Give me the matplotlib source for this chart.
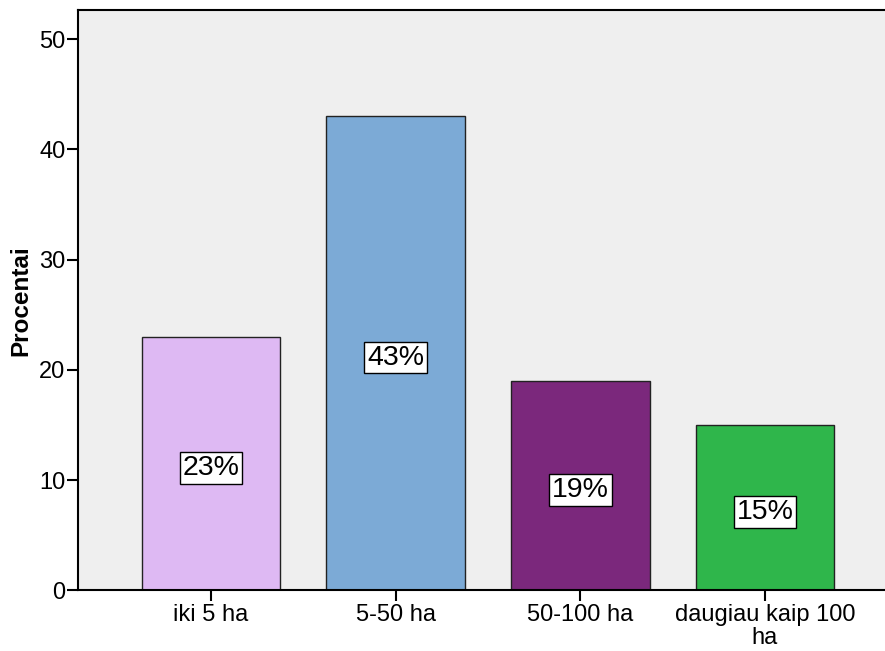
import numpy as np
import matplotlib
matplotlib.use("Agg")
import matplotlib.pyplot as plt

plt.rcParams['font.family'] = ['Liberation Sans', 'DejaVu Sans']

# data
categories = ["iki 5 ha", "5-50 ha", "50-100 ha", "daugiau kaip 100\nha"]
percents = [23, 43, 19, 15]
bar_colors = ["#DEB9F3", "#7CAAD6", "#7B287C", "#2FB64B"]
y_ticks = [0, 10, 20, 30, 40, 50]

fig = plt.figure(figsize=(8.85, 6.51), dpi=100)
ax = fig.add_axes([0.088, 0.093, 0.912, 0.891])
ax.set_facecolor("#EFEFEF")

x = np.arange(len(categories))
ax.bar(x, percents, width=0.75, color=bar_colors, edgecolor="#222222", linewidth=1.0, zorder=2)

# percentage labels in the middle of each bar
for xi, v in zip(x, percents):
    ax.annotate(f"{v}%", (xi, v / 2), xytext=(0, -3), textcoords="offset points",
                ha="center", va="center", fontsize=20.5, zorder=3,
                bbox=dict(boxstyle="square,pad=0.1", facecolor="white", edgecolor="black", linewidth=1.0))

ax.set_xlim(-0.72, 3.65)
ax.set_ylim(0, 52.6)
ax.set_yticks(y_ticks)
ax.set_xticks(x)
ax.set_xticklabels(categories, fontsize=17, linespacing=1.05)
ax.tick_params(axis="y", labelsize=17, length=8, width=1.5, pad=1)
ax.tick_params(axis="x", length=8, width=1.5, pad=2)

ax.set_ylabel("Procentai", fontsize=17.5, fontweight="bold", labelpad=5)

for side in ["left", "bottom", "top"]:
    ax.spines[side].set_linewidth(1.5)
ax.spines["right"].set_visible(False)

fig.savefig("out.png", dpi=100)
